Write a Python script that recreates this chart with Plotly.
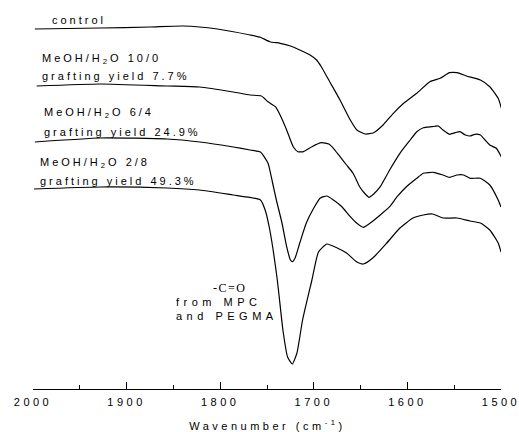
import plotly.graph_objects as go

# Wavenumber (cm^-1) and relative transmittance (offset, a.u.)
wn_control = [1998, 1928, 1875, 1840, 1803, 1768, 1757, 1747, 1736, 1725, 1715, 1704, 1697, 1692,
              1683, 1672, 1661, 1654, 1645, 1636, 1626, 1615, 1604, 1590, 1576, 1565, 1555, 1547,
              1537, 1522, 1512, 1503, 1499]
t_control = [360, 361, 362, 363, 360, 354, 351.7, 347.3, 345.7, 343, 339, 334, 329, 322.3,
             307.3, 289, 269, 259, 255, 256.3, 264, 275.7, 285.7, 295.7, 307.3, 310.7, 316.3, 316.3,
             313, 309, 302.3, 290.7, 279]

wn_10_0 = [1996, 1928, 1857, 1822, 1786, 1768, 1756, 1749, 1741, 1736, 1729, 1722, 1717, 1711,
           1702, 1692, 1684, 1679, 1672, 1665, 1658, 1651, 1645, 1641, 1636, 1629, 1619, 1608,
           1597, 1590, 1583, 1574, 1567, 1562, 1555, 1549, 1544, 1538, 1533, 1528, 1522, 1517,
           1512, 1505, 1499]
t_10_0 = [303, 305, 303, 302, 297, 294, 293, 287.3, 282.3, 274, 259, 242.3, 237.3, 237.3,
          242.3, 246.3, 245, 240.7, 232.3, 224, 215.7, 202.3, 195, 191.7, 195, 202.3, 219, 235.7,
          249, 257.3, 261.3, 262.3, 263, 259, 254.7, 256.3, 257.3, 254, 253, 254.7, 254, 249,
          244, 240.7, 231]

wn_6_4 = [1998, 1928, 1857, 1822, 1786, 1768, 1757, 1749, 1744, 1740, 1734, 1729, 1725, 1723,
          1720, 1715, 1708, 1700, 1693, 1686, 1679, 1670, 1661, 1654, 1647, 1640, 1629, 1619,
          1611, 1601, 1590, 1583, 1572, 1562, 1555, 1547, 1540, 1533, 1522, 1512, 1503, 1500]
t_6_4 = [247, 251, 250, 247, 242, 239, 237, 226, 206, 189, 166, 142.3, 129, 127.3,
         131, 146, 166, 181, 191, 193, 189, 182.3, 172.3, 165.7, 161.7, 165.7, 174, 182.3,
         192.3, 202.3, 210.7, 215.7, 216.7, 214, 211.7, 214, 214, 210.7, 210.7, 204, 189, 182]

wn_2_8 = [1999, 1928, 1857, 1822, 1786, 1765, 1757, 1752, 1747, 1739, 1733, 1728, 1723, 1718,
          1712, 1702, 1695, 1686, 1675, 1665, 1654, 1647, 1637, 1622, 1608, 1594, 1583, 1573,
          1562, 1547, 1533, 1522, 1512, 1503, 1500]
t_2_8 = [200, 202, 201, 199, 194, 191, 189, 179, 159, 109, 59, 32, 25, 36,
         69, 109, 137, 145, 141, 136, 127, 125, 131, 146, 161, 171, 174, 175,
         171, 171, 168, 166, 159, 146, 137]

tick_vals = [2000, 1900, 1800, 1700, 1600, 1500]
tick_text = ["2000", "1900", "1800", "1700", "1600", "1500"]

labels = [
    ("control", 1982, 369),
    ("MeOH/H<sub>2</sub>O 10/0", 1993, 330),
    ("grafting yield 7.7%", 1993, 313),
    ("MeOH/H<sub>2</sub>O 6/4", 1990, 276),
    ("grafting yield 24.9%", 1990, 257),
    ("MeOH/H<sub>2</sub>O 2/8", 1995, 226),
    ("grafting yield 49.3%", 1995, 208),
    ("from MPC", 1849, 87),
    ("and PEGMA", 1849, 73),
]

fig = go.Figure()
for xs, ys in [(wn_control, t_control), (wn_10_0, t_10_0), (wn_6_4, t_6_4), (wn_2_8, t_2_8)]:
    fig.add_trace(go.Scatter(x=xs, y=ys, mode="lines",
                             line=dict(color="black", width=1.2, shape="spline", smoothing=0.5),
                             showlegend=False, hoverinfo="skip"))

for txt, x, y in labels:
    fig.add_annotation(text=txt, x=x, y=y, xref="x", yref="y", xanchor="left", yanchor="middle",
                       align="left", showarrow=False,
                       font=dict(family="Liberation Sans, Arial", size=11, color="black"))

fig.add_annotation(text="-C=O", x=1790, y=101, xref="x", yref="y", xanchor="center",
                   yanchor="middle", showarrow=False,
                   font=dict(family="Liberation Serif, Times New Roman", size=12, color="black"))

fig.add_annotation(text="Wavenumber (cm<sup>-1</sup>)", x=0.5, y=-0.095, xref="paper", yref="paper",
                   xanchor="center", yanchor="middle", showarrow=False,
                   font=dict(family="Liberation Sans, Arial", size=11, color="black"))

fig.update_layout(
    width=519, height=432,
    margin=dict(l=33, r=18, t=10, b=43, autoexpand=False),
    paper_bgcolor="white", plot_bgcolor="white",
    xaxis=dict(range=[2000, 1500], tickvals=tick_vals, ticktext=tick_text, automargin=False,
               showgrid=False, zeroline=False, showline=True, linecolor="black", linewidth=1,
               ticks="inside", ticklen=7, tickwidth=1, tickcolor="black", ticklabelstandoff=3,
               minor=dict(ticks="inside", ticklen=4, dtick=50, tick0=2000, tickcolor="black",
                          showgrid=False),
               tickfont=dict(family="Liberation Sans, Arial", size=11, color="black")),
    yaxis=dict(range=[0, 379], visible=False, automargin=False),
)

post = """
document.body.style.margin='0';
document.body.style.padding='0';
var s=document.createElement('style');
s.textContent='body{margin:0;padding:0}.xtick text{letter-spacing:3.5px}.annotation text{letter-spacing:3px}'+
 '.annotation[data-index="7"] text,.annotation[data-index="8"] text{letter-spacing:4.5px}'+
 '.annotation[data-index="9"] text{letter-spacing:1.5px}'+
 '.annotation[data-index="10"] text{letter-spacing:3.5px}';
document.head.appendChild(s);
"""
fig.write_html("out.html", post_script=post, config={"displayModeBar": False})
